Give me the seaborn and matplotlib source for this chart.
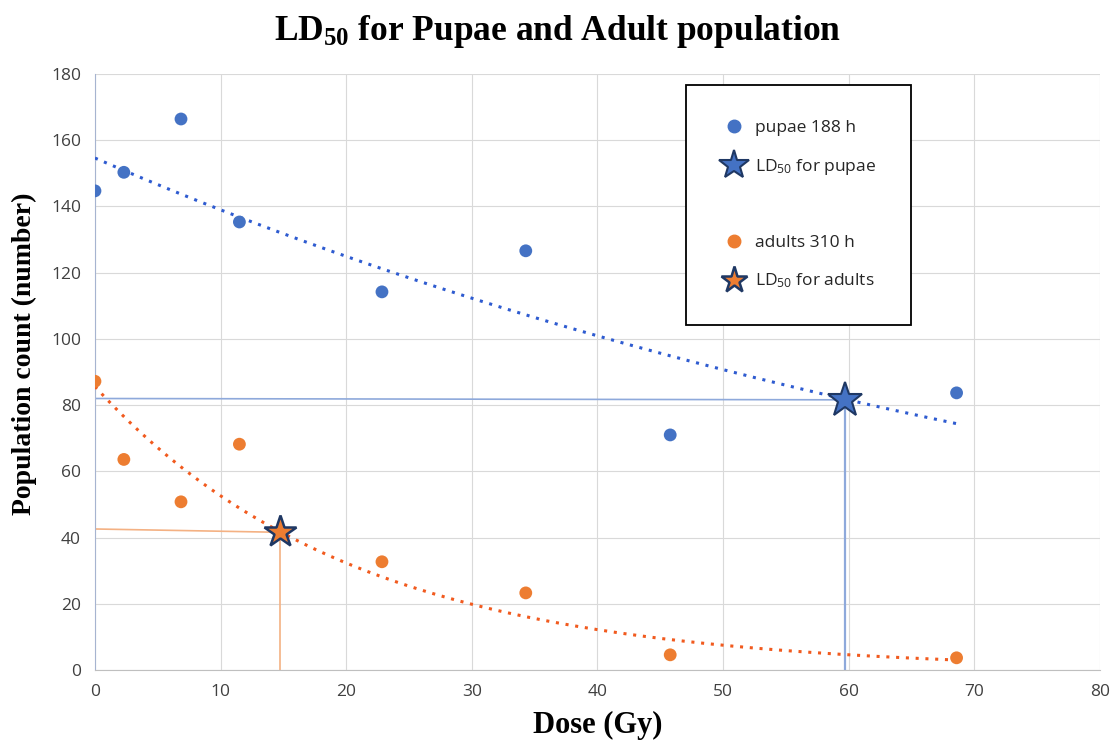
import numpy as np
import pandas as pd
import matplotlib
matplotlib.use("Agg")
import matplotlib.pyplot as plt
from matplotlib.lines import Line2D
import seaborn as sns

# ---- data ----
dose = [0, 2.3, 6.85, 11.5, 22.85, 34.3, 45.8, 68.6]
pupae = [144.7, 150.3, 166.4, 135.3, 114.2, 126.6, 71.0, 83.7]
adults = [87.2, 63.6, 50.8, 68.2, 32.7, 23.3, 4.6, 3.7]
ld50_pupae = (59.7, 81.6)
ld50_adults = (14.7, 41.6)
pupae_guide_y = 82.0
adults_guide_y = 42.6
x_ticks = [0, 10, 20, 30, 40, 50, 60, 70, 80]
y_ticks = [0, 20, 40, 60, 80, 100, 120, 140, 160, 180]

blue = "#4472C4"
orange = "#ED7D31"
trend_blue = "#2E5BD0"
trend_orange = "#F15A1E"
navy = "#1F3864"

sns.set_style("whitegrid", {"grid.color": "#D9D9D9", "axes.edgecolor": "#BFBFBF"})
plt.rcParams["mathtext.default"] = "regular"

fig = plt.figure(figsize=(11.12, 7.47), dpi=100)
ax = fig.add_axes([0.0854, 0.103, 0.9036, 0.798])

df = pd.DataFrame({"dose": dose, "pupae": pupae, "adults": adults})

# exponential trend lines (fit like a spreadsheet exponential trendline)
xs = np.linspace(0, max(dose), 200)
for col, col_c in (("pupae", trend_blue), ("adults", trend_orange)):
    b, a = np.polyfit(df["dose"], np.log(df[col]), 1)
    tr = pd.DataFrame({"x": xs, "y": np.exp(a) * np.exp(b * xs)})
    sns.lineplot(data=tr, x="x", y="y", ax=ax, color=col_c, linestyle=(0, (1, 2.2)),
                 linewidth=2.2, zorder=3)

# guide lines
ax.plot([0, ld50_pupae[0]], [pupae_guide_y, ld50_pupae[1]], color="#8EA9DB", lw=1.2, zorder=2)
ax.plot([ld50_pupae[0], ld50_pupae[0]], [0, ld50_pupae[1]], color="#8EA9DB", lw=1.6, zorder=2)
ax.plot([0, ld50_adults[0]], [adults_guide_y, ld50_adults[1]], color="#F4B183", lw=1.2, zorder=2)
ax.plot([ld50_adults[0], ld50_adults[0]], [0, ld50_adults[1]], color="#F4B183", lw=1.2, zorder=2)

sns.scatterplot(data=df, x="dose", y="pupae", ax=ax, color=blue, s=85, edgecolor="none", zorder=4)
sns.scatterplot(data=df, x="dose", y="adults", ax=ax, color=orange, s=85, edgecolor="none", zorder=4)

ax.plot(*ld50_pupae, marker="*", markersize=26, markerfacecolor=blue, markeredgecolor=navy,
        markeredgewidth=1.5, zorder=5, linestyle="none")
ax.plot(*ld50_adults, marker="*", markersize=24, markerfacecolor=orange, markeredgecolor=navy,
        markeredgewidth=1.8, zorder=5, linestyle="none")

ax.set_xlim(0, 80)
ax.set_ylim(0, 180)
ax.set_xticks(x_ticks)
ax.set_yticks(y_ticks)
for s in ("top", "right"):
    ax.spines[s].set_visible(False)
ax.spines["left"].set_color("#A6B4D0")
ax.spines["bottom"].set_color("#BFBFBF")
ax.tick_params(axis="both", labelsize=12.5, labelcolor="#404040", length=0, pad=10)
for lab in ax.get_xticklabels() + ax.get_yticklabels():
    lab.set_family("Open Sans")

ax.set_xlabel("Dose (Gy)", fontsize=22, fontweight="bold", family="Liberation Serif",
              color="black")
ax.xaxis.set_label_coords(0.5, -0.068)
ax.set_ylabel("Population count (number)", fontsize=20, fontweight="bold", family="Liberation Serif",
              color="black")
ax.yaxis.set_label_coords(-0.058, 0.53)
fig.text(0.501, 0.958, r"LD$_{50}$ for Pupae and Adult population", ha="center", va="center",
         fontsize=25.5, fontweight="bold", family="Liberation Serif", color="black")

handles = [
    Line2D([], [], marker="o", color=blue, linestyle="none", markersize=9),
    Line2D([], [], marker="*", markerfacecolor=blue, markeredgecolor=navy, linestyle="none",
           markersize=22, markeredgewidth=1.5),
    Line2D([], [], linestyle="none"),
    Line2D([], [], marker="o", color=orange, linestyle="none", markersize=9),
    Line2D([], [], marker="*", markerfacecolor=orange, markeredgecolor=navy, linestyle="none",
           markersize=20, markeredgewidth=1.8),
]
labels = ["pupae 188 h", r"LD$_{50}$ for pupae", " ", "adults 310 h", r"LD$_{50}$ for adults"]
leg = ax.legend(handles, labels, loc="upper left", bbox_to_anchor=(0.588, 0.981), frameon=True,
                fancybox=False, edgecolor="black", framealpha=1, prop={"family": "Open Sans", "size": 12.5},
                labelspacing=1.2, borderpad=2.0, handletextpad=0.4, handlelength=1.6, borderaxespad=0)
leg.get_frame().set_linewidth(1.3)

fig.savefig("out.png", dpi=100, facecolor="white")
